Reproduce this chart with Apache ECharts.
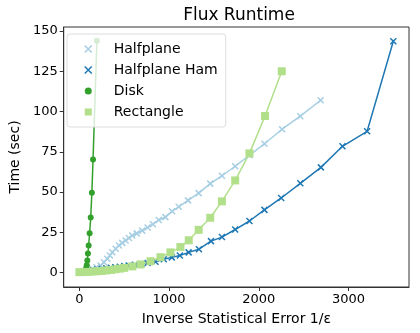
<!DOCTYPE html>
<html>
<head>
    <meta charset="utf-8">
    <title>Flux Runtime</title>
    <script src="https://cdn.jsdelivr.net/npm/echarts@6/dist/echarts.min.js"></script>
    <style>
        html, body { margin: 0; padding: 0; background: #fff; }
        #main { width: 420px; height: 333px; }
    </style>
</head>
<body>
    <div id="main"></div>
    <script>
    // values
    var halfX = [107, 144, 190, 237, 274, 311, 340, 367, 404, 441, 478, 515, 552, 589, 640, 700, 760, 820, 885, 959, 1033, 1107, 1211, 1330, 1459, 1589, 1737, 1896, 2063, 2260, 2463, 2690];
    var halfY = [1.2, 2.3, 3.3, 4.4, 6.4, 8.5, 10.6, 12.6, 14.8, 16.8, 18.4, 19.9, 21.4, 23.0, 24.3, 26.0, 28.0, 30.0, 32.6, 34.4, 38.0, 40.8, 44.8, 49.3, 55.2, 60.1, 66.0, 72.8, 80.0, 89.0, 97.1, 107.0];

    var hamX = [100, 150, 200, 250, 300, 350, 400, 450, 500, 550, 620, 690, 760, 848, 941, 1030, 1120, 1218, 1333, 1467, 1589, 1737, 1896, 2063, 2250, 2463, 2693, 2933, 3208, 3500];
    var hamY = [1.0, 1.4, 1.8, 2.2, 2.6, 3.0, 3.3, 3.6, 4.0, 4.4, 4.8, 5.3, 5.9, 6.7, 8.2, 9.4, 10.6, 12.5, 14.5, 19.5, 22.0, 26.7, 32.0, 38.9, 46.3, 55.4, 65.3, 78.4, 87.7, 143.6];

    var diskX = [60, 68, 75, 82, 88, 95, 103, 114, 126, 139, 152, 195];
    var diskY = [0.3, 1.2, 2.6, 4.5, 7.5, 11.8, 16.8, 24.4, 34.2, 49.5, 70.2, 144.0];

    var rectX = [0, 50, 100, 150, 200, 250, 300, 350, 400, 450, 500, 590, 681, 793, 904, 1015, 1126, 1219, 1330, 1459, 1589, 1737, 1896, 2070, 2256];
    var rectY = [0.2, 0.3, 0.4, 0.6, 0.8, 1.0, 1.3, 1.6, 2.0, 2.4, 2.9, 3.8, 5.0, 7.0, 9.5, 12.5, 15.8, 20.0, 26.5, 34.0, 44.2, 57.2, 74.0, 97.2, 125.0];

    var xTicks = [0, 1000, 2000, 3000];
    var yTicks = [0, 25, 50, 75, 100, 125, 150];

    var names = ['Halfplane', 'Halfplane Ham', 'Disk', 'Rectangle'];
    var colors = ['#a6cee3', '#1f78b4', '#33a02c', '#b2df8a'];
    var cross = 'path://M0,0L10,10M10,0L0,10';

    function pairs(xs, ys) {
        var out = [];
        for (var i = 0; i < xs.length; i++) out.push([xs[i], ys[i]]);
        return out;
    }

    var font = 'DejaVu Sans';
    var chart = echarts.init(document.getElementById('main'));

    function crossSeries(name, color, xs, ys) {
        return {
            name: name,
            type: 'line',
            data: pairs(xs, ys),
            symbol: cross,
            symbolSize: 6,
            showAllSymbol: true,
            lineStyle: { color: color, width: 1.5 },
            itemStyle: { color: color, borderColor: color, borderWidth: 1.5 },
            emphasis: { disabled: true },
            animation: false
        };
    }

    var option = {
        backgroundColor: '#fff',
        title: {
            text: 'Flux Runtime',
            left: 234,
            top: 2,
            textAlign: 'center',
            textStyle: { fontFamily: font, fontSize: 17, fontWeight: 'normal', color: '#000' }
        },
        legend: {
            left: 67,
            top: 34,
            orient: 'vertical',
            padding: [7, 8, 7, 17],
            itemGap: 5,
            itemWidth: 7,
            itemHeight: 7,
            backgroundColor: 'rgba(255,255,255,0.8)',
            borderColor: '#dddddd',
            borderWidth: 1,
            borderRadius: 3,
            textStyle: { fontFamily: font, fontSize: 14, color: '#000', padding: [0, 0, 0, 17], lineHeight: 16 },
            data: [
                { name: names[0], icon: cross, itemStyle: { color: colors[0], borderColor: colors[0], borderWidth: 1.5 } },
                { name: names[1], icon: cross, itemStyle: { color: colors[1], borderColor: colors[1], borderWidth: 1.5 } },
                { name: names[2], icon: 'circle', itemStyle: { color: colors[2], borderWidth: 0 } },
                { name: names[3], icon: 'rect', itemStyle: { color: colors[3], borderWidth: 0 } }
            ]
        },
        grid: {
            left: 60, right: 11, top: 27, bottom: 46,
            show: true, borderColor: '#333', borderWidth: 1
        },
        xAxis: {
            type: 'value',
            min: -175,
            max: 3675,
            name: 'Inverse Statistical Error 1/\u03b5',
            nameLocation: 'middle',
            nameGap: 25,
            nameTextStyle: { fontFamily: font, fontSize: 14, color: '#000' },
            axisLine: { show: true, onZero: false, lineStyle: { color: '#333' } },
            axisTick: { show: true, length: 4, customValues: xTicks, lineStyle: { color: '#333' } },
            axisLabel: {
                customValues: xTicks, fontFamily: font, fontSize: 13, color: '#000', margin: 6,
                formatter: function (v) { return String(v); }
            },
            splitLine: { show: false }
        },
        yAxis: {
            type: 'value',
            min: -9,
            max: 152.5,
            name: 'Time (sec)',
            nameLocation: 'middle',
            nameGap: 35,
            nameTextStyle: { fontFamily: font, fontSize: 14, color: '#000' },
            axisLine: { show: true, onZero: false, lineStyle: { color: '#333' } },
            axisTick: { show: true, length: 4, customValues: yTicks, lineStyle: { color: '#333' } },
            axisLabel: {
                customValues: yTicks, fontFamily: font, fontSize: 13, color: '#000', margin: 6,
                formatter: function (v) { return String(v); }
            },
            splitLine: { show: false }
        },
        series: [
            crossSeries(names[0], colors[0], halfX, halfY),
            crossSeries(names[1], colors[1], hamX, hamY),
            {
                name: names[2],
                type: 'line',
                data: pairs(diskX, diskY),
                symbol: 'circle',
                symbolSize: 6,
                showAllSymbol: true,
                lineStyle: { color: colors[2], width: 1.5 },
                itemStyle: { color: colors[2] },
                emphasis: { disabled: true },
                animation: false
            },
            {
                name: names[3],
                type: 'line',
                data: pairs(rectX, rectY),
                symbol: 'rect',
                symbolSize: 8,
                showAllSymbol: true,
                lineStyle: { color: colors[3], width: 1.5 },
                itemStyle: { color: colors[3] },
                emphasis: { disabled: true },
                animation: false
            }
        ]
    };
    chart.setOption(option);
    window.onresize = chart.resize;
    </script>
</body>
</html>
